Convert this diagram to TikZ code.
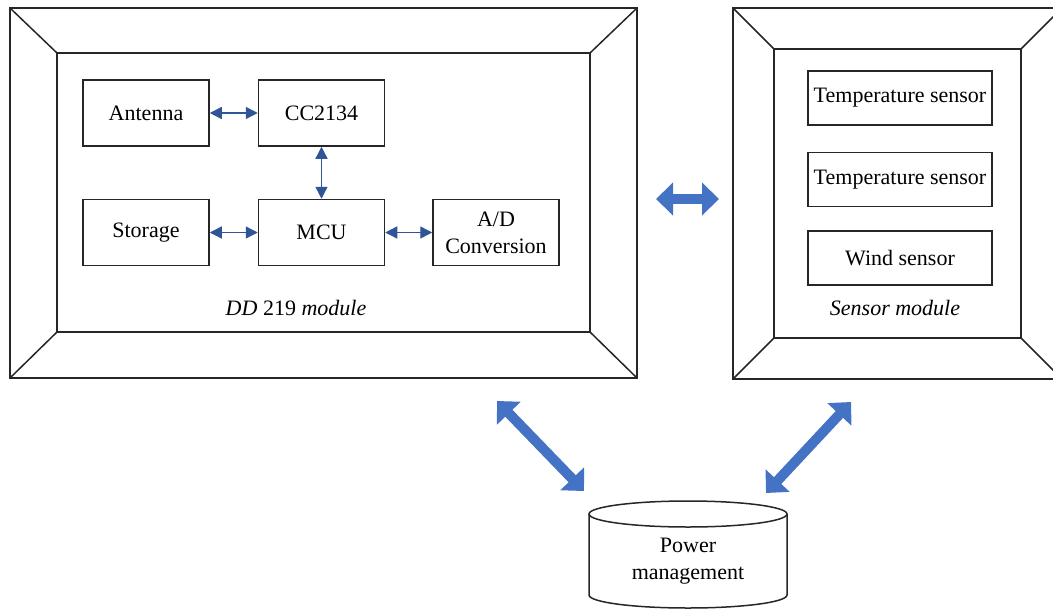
\documentclass[tikz,border=0pt]{standalone}
\usepackage{fontspec}
\setmainfont{Liberation Serif}
\usetikzlibrary{arrows.meta,positioning}
\definecolor{linkblue}{HTML}{2F5597}
\definecolor{bigblue}{HTML}{4472C4}

\tikzset{
  frame/.style={draw=black!85, line width=0.75pt},
  unit/.style={draw=black!85, line width=0.75pt, minimum width=63pt,
    minimum height=33pt, inner sep=1pt, align=center},
  sensorbox/.style={unit, minimum width=92pt, minimum height=27pt},
  link/.style={draw=linkblue, line width=0.7pt,
    {Triangle[length=6pt,width=6pt]}-{Triangle[length=6pt,width=6pt]}},
  bigarrow/.style={draw=bigblue, line width=5pt,
    {Triangle[length=8.5pt,width=16pt]}-{Triangle[length=8.5pt,width=16pt]}},
}

\begin{document}
\begin{tikzpicture}[x=0.5pt, y=-0.5pt, font=\fontsize{11}{13.5}\selectfont]
  \useasboundingbox (0,0) rectangle (1053,610);

  % DD 219 module frame
  \draw[frame] (10,8) rectangle (637,378);
  \draw[frame] (57,53) rectangle (590,332);
  \foreach \ox/\oy/\ix/\iy in {10/8/57/53, 637/8/590/53, 10/378/57/332, 637/378/590/332}
    \draw[frame] (\ox,\oy) -- (\ix,\iy);

  % sensor module frame
  \draw[frame] (733,8) rectangle (1062,379);
  \draw[frame] (774,49) rectangle (1021,338);
  \foreach \ox/\oy/\ix/\iy in {733/8/774/49, 1062/8/1021/49, 733/379/774/338, 1062/379/1021/338}
    \draw[frame] (\ox,\oy) -- (\ix,\iy);

  % blocks of the DD 219 module
  \node[unit] (antenna) at (146,113) {Antenna};
  \node[unit, right=24pt of antenna] (cc) {CC2134};
  \node[unit, below=26pt of cc] (mcu) {MCU};
  \node[unit, left=24pt of mcu] (storage) {Storage};
  \node[unit, right=23.5pt of mcu] (adc) {A/D\\Conversion};
  \node (ddlabel) at (296,308) {\textit{DD} 219 \textit{module}};

  % sensors
  \node[sensorbox] (temp1) at (900,98) {Temperature sensor};
  \node[sensorbox, below=13pt of temp1] (temp2) {Temperature sensor};
  \node[sensorbox, below=11.5pt of temp2] (wind) {Wind sensor};
  \node (sensorlabel) at (895,308) {\textit{Sensor module}};

  % power management
  \node[align=center] (power) at (688,561) {Power\\management};
  \draw[frame] (589,514) -- (589,595)
    arc[start angle=180, end angle=0, x radius=99, y radius=13] -- (787,514);
  \draw[frame] (688,514) ellipse[x radius=99, y radius=13];

  % internal links
  \draw[link] (antenna) -- (cc);
  \draw[link] (cc) -- (mcu);
  \draw[link] (storage) -- (mcu);
  \draw[link] (mcu) -- (adc);

  % module links
  \coordinate (ddright) at (656,199);
  \coordinate (sensorleft) at (719,199);
  \coordinate (ddbottom) at (497,401);
  \coordinate (powerleft) at (584,491);
  \coordinate (sensorbottom) at (851,402);
  \coordinate (powerright) at (766,493);
  \draw[bigarrow] (ddright) -- (sensorleft);
  \draw[bigarrow] (ddbottom) -- (powerleft);
  \draw[bigarrow] (sensorbottom) -- (powerright);
\end{tikzpicture}
\end{document}
